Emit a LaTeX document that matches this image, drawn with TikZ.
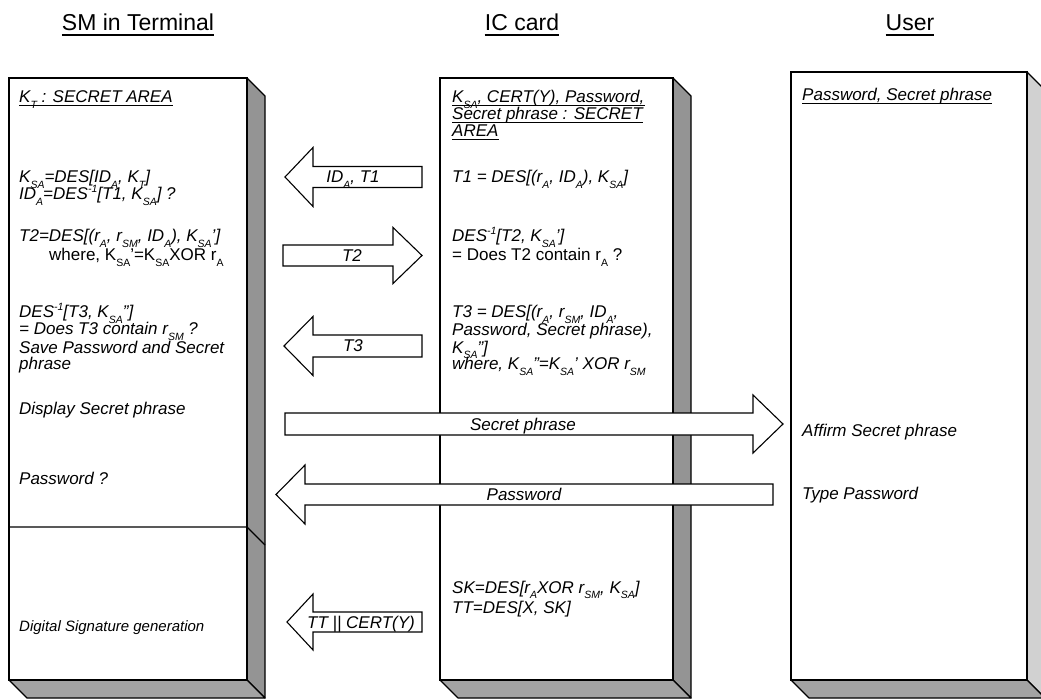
\documentclass[tikz,border=0pt]{standalone}
\usepackage{fontspec}
\setmainfont{Liberation Sans}
\newcommand{\sbs}[1]{\raisebox{-0.30em}{\fontsize{10.5}{10.5}\selectfont #1}}
\newcommand{\sps}[1]{\raisebox{0.42em}{\fontsize{10.5}{10.5}\selectfont #1}}
\newcommand{\dbox}[5]{%
  \draw[side, fill=#5] (#3,#2) -- (#3+18,#2+18) -- (#3+18,#4+18) -- (#3,#4) -- cycle;
  \draw[side] (#1,#4) -- (#1+18,#4+18) -- (#3+18,#4+18) -- (#3,#4) -- cycle;
  \draw[face] (#1,#2) rectangle (#3,#4);}
% left arrow: tipx, y, headbase x, end x, shaft half, head half
\newcommand{\larr}[6]{%
  \draw[blk] (#1,#2) -- (#3,#2-#6) -- (#3,#2-#5) -- (#4,#2-#5) -- (#4,#2+#5) -- (#3,#2+#5) -- (#3,#2+#6) -- cycle;}
% right arrow: start x, y, headbase x, tip x, shaft half, head half
\newcommand{\rarr}[6]{%
  \draw[blk] (#1,#2-#5) -- (#3,#2-#5) -- (#3,#2-#6) -- (#4,#2) -- (#3,#2+#6) -- (#3,#2+#5) -- (#1,#2+#5) -- cycle;}
\tikzset{
  face/.style={draw=black, line width=1.2pt, fill=white},
  side/.style={draw=black, line width=1.2pt, fill=black!36, line join=round},
  blk/.style={draw=black, line width=1.1pt, fill=white, line join=miter},
  txt/.style={anchor=base west, inner sep=0pt, font=\fontsize{17}{17}\selectfont\itshape},
  utxt/.style={anchor=base west, inner sep=0pt, font=\fontsize{17}{17}\selectfont\upshape},
  stxt/.style={anchor=base west, inner sep=0pt, font=\fontsize{15}{15}\selectfont\itshape},
  lab/.style={anchor=base, inner sep=0pt, font=\fontsize{17}{17}\selectfont\itshape},
  hdr/.style={anchor=base, inner sep=0pt, font=\fontsize{23}{23}\selectfont},
  ulin/.style={line width=1pt},
  hul/.style={line width=1.6pt},
}
\begin{document}
\begin{tikzpicture}[x=1pt,y=-1pt]
\useasboundingbox (0,0) rectangle (1041,700);
\clip (0,0) rectangle (1041,700);
\fill[white] (0,0) rectangle (1041,700);

% headers
\node[hdr] (h1) at (138,31) {SM in Terminal};
\node[hdr] (h2) at (522,31) {IC card};
\node[hdr] (h3) at (910,31) {User};
\foreach \h in {h1,h2,h3}
  \draw[hul] ([yshift=-4pt]\h.base west) -- ([yshift=-4pt]\h.base east);

% boxes
\dbox{9}{78}{247}{680}{black!42}
\draw[line width=1.2pt] (9,527) -- (247,527) -- (265,545);
\dbox{440}{78}{673}{680}{black!42}
\dbox{791}{72}{1027}{680}{black!18}

% left column text
\node[txt] (l0) at (19,103) {K\sbs{\textit{T}} : SECRET AREA};
\draw[ulin] ([yshift=-3pt]l0.base west) -- ([yshift=-3pt]l0.base east);
\node[txt] (l1) at (19,183) {K\sbs{SA}=DES[ID\sbs{A}, K\sbs{T}]};
\node[txt] (l2) at (19,200) {ID\sbs{A}=DES\sps{-1}[T1, K\sbs{SA}] ?};
\node[txt] (l3) at (19,242) {T2=DES[(r\sbs{A}, r\sbs{SM}, ID\sbs{A}), K\sbs{SA}']};
\node[utxt] (l4) at (49,261) {where, K\sbs{SA}'=K\sbs{SA}XOR r\sbs{A}};
\node[txt] (l5) at (19,318) {DES\sps{-1}[T3, K\sbs{SA}'']};
\node[txt] (l6) at (19,335) {= Does T3 contain r\sbs{SM} ?};
\node[txt] (l7) at (19,353) {Save Password and Secret};
\node[txt] (l8) at (19,370) {phrase};
\node[txt] (l9) at (19,414) {Display Secret phrase};
\node[txt] (l10) at (19,484) {Password ?};
\node[stxt] (l11) at (19,631) {Digital Signature generation};

% middle column text
\node[txt] (m0) at (452,103) {K\sbs{SA}, CERT(Y), Password,};
\node[txt] (m1) at (452,120) {Secret phrase : SECRET};
\node[txt] (m2) at (452,137) {AREA};
\foreach \m in {m0,m1,m2}
  \draw[ulin] ([yshift=-3pt]\m.base west) -- ([yshift=-3pt]\m.base east);
\node[txt] (m3) at (452,183) {T1 = DES[(r\sbs{A}, ID\sbs{A}), K\sbs{SA}]};
\node[txt] (m4) at (452,242) {DES\sps{-1}[T2, K\sbs{SA}']};
\node[utxt] (m5) at (452,261) {= Does T2 contain r\sbs{A} ?};
\node[txt] (m6) at (452,318) {T3 = DES[(r\sbs{A}, r\sbs{SM}, ID\sbs{A},};
\node[txt] (m7) at (452,336) {Password, Secret phrase),};
\node[txt] (m8) at (452,353) {K\sbs{SA}'']};
\node[txt] (m9) at (452,370) {where, K\sbs{SA}''=K\sbs{SA}' XOR r\sbs{SM}};
\node[txt] (m10) at (452,593) {SK=DES[r\sbs{A}XOR r\sbs{SM}, K\sbs{SA}]};
\node[txt] (m11) at (452,613) {TT=DES[X, SK]};

% right column text
\node[txt] (r0) at (802,101) {Password, Secret phrase};
\draw[ulin] ([yshift=-3pt]r0.base west) -- ([yshift=-3pt]r0.base east);
\node[txt] (r1) at (802,436) {Affirm Secret phrase};
\node[txt] (r2) at (802,499) {Type Password};

% block arrows
\larr{285}{177}{313}{422}{10.5}{29.5}
\node[lab] (a1) at (353,183) {ID\sbs{A}, T1};
\rarr{283}{255.5}{393}{422}{10.5}{28}
\node[lab] (a2) at (352,262) {T2};
\larr{284}{346}{313}{422}{11}{29.5}
\node[lab] (a3) at (353,352) {T3};
\rarr{285}{424}{753}{783}{11}{29}
\node[lab] (a4) at (523,430) {Secret phrase};
\larr{276}{494.5}{305}{773}{10.5}{29.5}
\node[lab] (a5) at (524,500) {Password};
\larr{287}{622}{313}{422}{10}{28}
\node[lab] (a6) at (361,628) {TT || CERT(Y)};
\end{tikzpicture}
\end{document}
